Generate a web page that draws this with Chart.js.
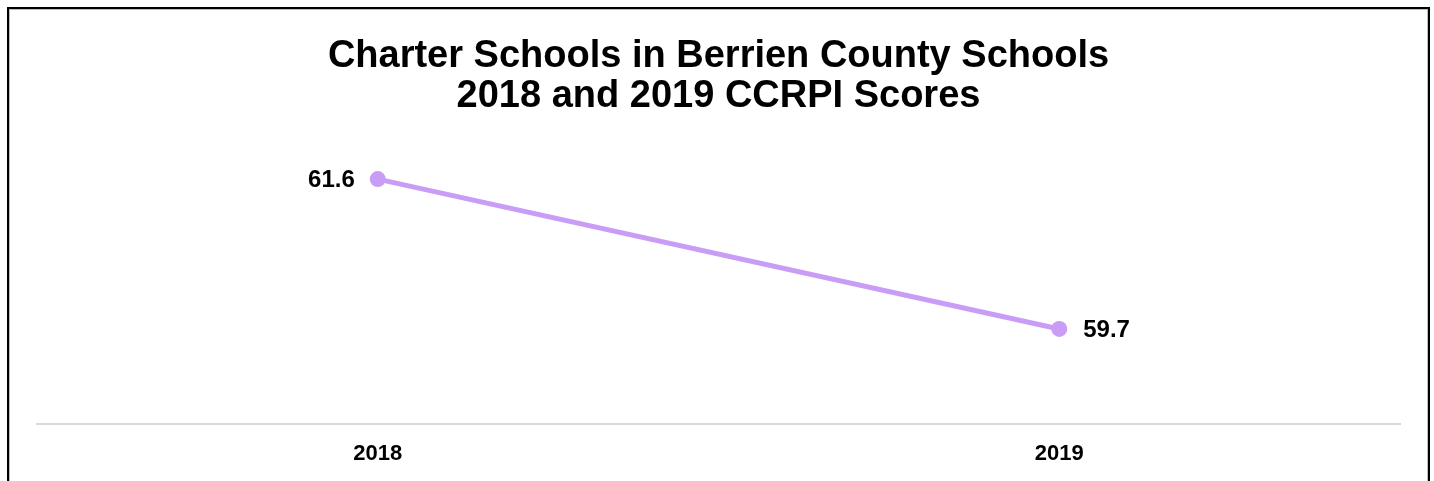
<!DOCTYPE html>
<html>
<head>
<meta charset="utf-8">
<script src="https://cdn.jsdelivr.net/npm/chart.js@4/dist/chart.umd.min.js"></script>
<style>
    html, body { margin: 0; padding: 0; background: #fff; }
    #wrap { position: relative; width: 1434px; height: 481px; overflow: hidden; }
    #frame {
        position: absolute; left: 7px; top: 7px; width: 1423px; height: 520px;
        box-sizing: border-box; border: 2px solid #000; border-bottom: none;
        box-shadow: inset 1px 1px 0 #bbb, inset -1px 0 0 #bbb;
        pointer-events: none;
    }
    canvas { position: absolute; left: 0; top: 0; }
</style>
</head>
<body>
<div id="wrap">
    <canvas id="grafico" width="1434" height="481"></canvas>
    <div id="frame"></div>
</div>
<script>
// ---------------- DADOS ----------------
const anos = ["2018", "2019"];
const notas = [61.6, 59.7];
const titulo = ["Charter Schools in Berrien County Schools", "2018 and 2019 CCRPI Scores"];

const corLinha = "#c99cf6";
const fonte = "'Liberation Sans', Arial, sans-serif";

// rótulos ao lado dos pontos
const rotulosPlugin = {
    id: "rotulos",
    afterDatasetsDraw(chart) {
        const ctx = chart.ctx;
        const meta = chart.getDatasetMeta(0);
        ctx.save();
        ctx.font = "bold 24px " + fonte;
        ctx.fillStyle = "#000";
        ctx.textBaseline = "middle";
        meta.data.forEach((pt, i) => {
            const valor = notas[i].toFixed(1);
            if (i === 0) {
                ctx.textAlign = "right";
                ctx.fillText(valor, pt.x - 23, pt.y + 1);
            } else {
                ctx.textAlign = "left";
                ctx.fillText(valor, pt.x + 24, pt.y + 1);
            }
        });
        ctx.restore();
    }
};

new Chart(document.getElementById("grafico"), {
    type: "line",
    data: {
        labels: anos,
        datasets: [{
            data: notas,
            borderColor: corLinha,
            backgroundColor: corLinha,
            borderWidth: 5,
            pointRadius: 8,
            pointBackgroundColor: corLinha,
            pointBorderWidth: 0,
            tension: 0
        }]
    },
    options: {
        responsive: false,
        animation: false,
        layout: { padding: { left: 37, right: 34, top: 12, bottom: 5 } },
        plugins: {
            legend: { display: false },
            tooltip: { enabled: false },
            title: {
                display: true,
                text: titulo,
                color: "#000",
                font: { family: fonte, size: 38, weight: "bold", lineHeight: 1.06 },
                padding: { top: 24, bottom: 31 }
            }
        },
        scales: {
            x: {
                offset: true,
                grid: { display: false },
                border: { display: true, color: "#d9d9d9", width: 2 },
                ticks: {
                    color: "#000",
                    padding: 9,
                    font: { family: fonte, size: 22, weight: "bold" }
                }
            },
            y: {
                display: false,
                min: 58.5,
                max: 62.0
            }
        }
    },
    plugins: [rotulosPlugin]
});
</script>
</body>
</html>
